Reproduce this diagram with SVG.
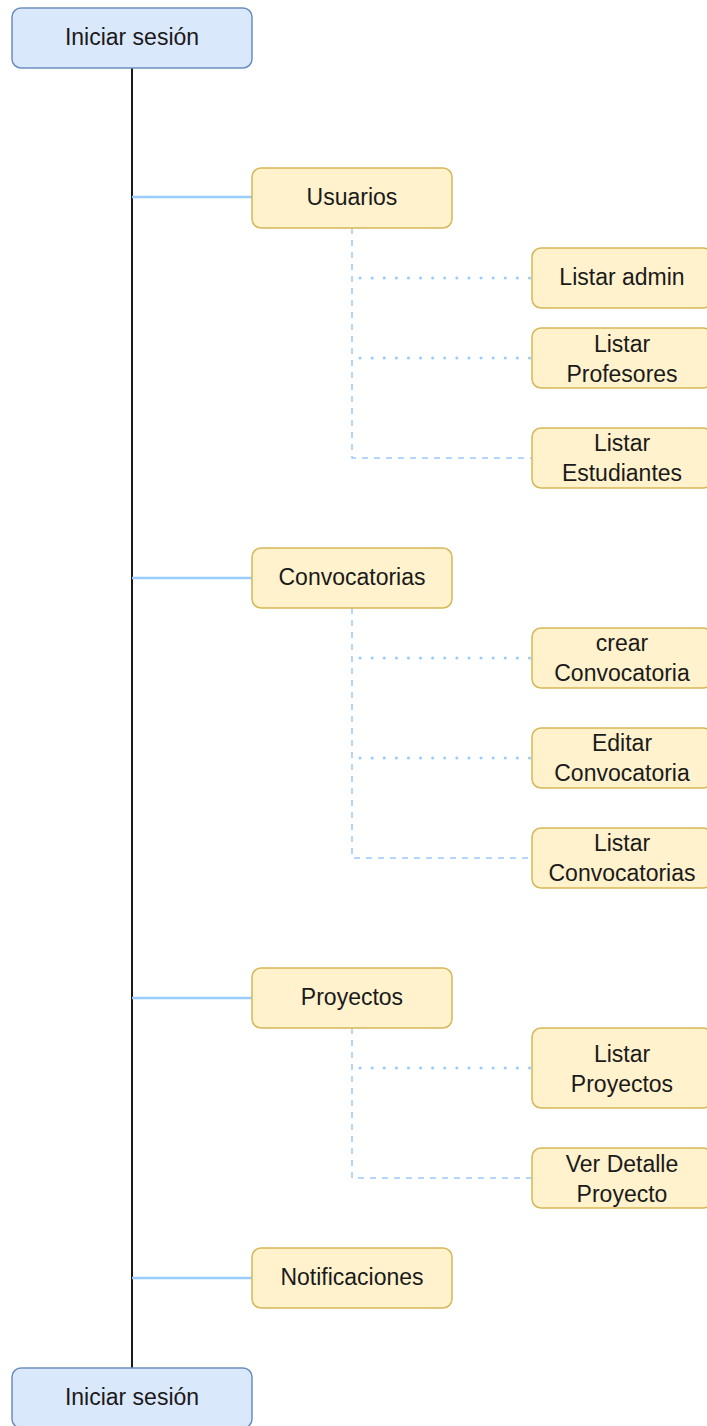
<svg xmlns="http://www.w3.org/2000/svg" width="707" height="1426" viewBox="0 0 707 1426">
<style>
.blue{fill:#dae8fc;stroke:#6c8ebf;stroke-width:1.5}
.yel{fill:#fff2cc;stroke:#d6b656;stroke-width:1.5}
text{font-family:"Liberation Sans",Arial,sans-serif;font-size:23px;fill:#1a1a1a;text-anchor:middle}
.main{stroke:#1a1a1a;stroke-width:2;fill:none}
.solid{stroke:#99ccff;stroke-width:2.5;fill:none}
.dash{stroke:#99ccff;stroke-width:1.5;stroke-dasharray:6 6;fill:none}
.dot{stroke:#99ccff;stroke-width:3;stroke-dasharray:0.1 12;stroke-linecap:round;fill:none}
</style>
<rect width="707" height="1426" fill="#ffffff"/>
<g id="connectors">
<line class="main" x1="132" y1="68" x2="132" y2="1368"/>
<line class="solid" x1="132" y1="197" x2="252" y2="197"/>
<line class="solid" x1="132" y1="578" x2="252" y2="578"/>
<line class="solid" x1="132" y1="998" x2="252" y2="998"/>
<line class="solid" x1="132" y1="1278" x2="252" y2="1278"/>
<path class="dash" d="M352 228 V458 H532"/>
<path class="dot" d="M360 278 H532"/>
<path class="dot" d="M360 358 H532"/>
<path class="dash" d="M352 608 V858 H532"/>
<path class="dot" d="M360 658 H532"/>
<path class="dot" d="M360 758 H532"/>
<path class="dash" d="M352 1028 V1178 H532"/>
<path class="dot" d="M360 1068 H532"/>
</g>
<g id="n-iniciar-top"><rect class="blue" x="12" y="8" width="240" height="60" rx="9"/><text x="132" y="45">Iniciar sesión</text></g>
<g id="n-usuarios"><rect class="yel" x="252" y="168" width="200" height="60" rx="9"/><text x="352" y="205">Usuarios</text></g>
<g id="n-listar-admin"><rect class="yel" x="532" y="248" width="180" height="60" rx="9"/><text x="622" y="285">Listar admin</text></g>
<g id="n-listar-profesores"><rect class="yel" x="532" y="328" width="180" height="60" rx="9"/><text x="622" y="352">Listar</text><text x="622" y="382">Profesores</text></g>
<g id="n-listar-estudiantes"><rect class="yel" x="532" y="428" width="180" height="60" rx="9"/><text x="622" y="451">Listar</text><text x="622" y="481">Estudiantes</text></g>
<g id="n-convocatorias"><rect class="yel" x="252" y="548" width="200" height="60" rx="9"/><text x="352" y="585">Convocatorias</text></g>
<g id="n-crear-conv"><rect class="yel" x="532" y="628" width="180" height="60" rx="9"/><text x="622" y="651">crear</text><text x="622" y="681">Convocatoria</text></g>
<g id="n-editar-conv"><rect class="yel" x="532" y="728" width="180" height="60" rx="9"/><text x="622" y="751">Editar</text><text x="622" y="781">Convocatoria</text></g>
<g id="n-listar-conv"><rect class="yel" x="532" y="828" width="180" height="60" rx="9"/><text x="622" y="851">Listar</text><text x="622" y="881">Convocatorias</text></g>
<g id="n-proyectos"><rect class="yel" x="252" y="968" width="200" height="60" rx="9"/><text x="352" y="1005">Proyectos</text></g>
<g id="n-listar-proyectos"><rect class="yel" x="532" y="1028" width="180" height="80" rx="9"/><text x="622" y="1062">Listar</text><text x="622" y="1092">Proyectos</text></g>
<g id="n-ver-detalle"><rect class="yel" x="532" y="1148" width="180" height="60" rx="9"/><text x="622" y="1172">Ver Detalle</text><text x="622" y="1202">Proyecto</text></g>
<g id="n-notificaciones"><rect class="yel" x="252" y="1248" width="200" height="60" rx="9"/><text x="352" y="1285">Notificaciones</text></g>
<g id="n-iniciar-bottom"><rect class="blue" x="12" y="1368" width="240" height="60" rx="9"/><text x="132" y="1405">Iniciar sesión</text></g>
</svg>
